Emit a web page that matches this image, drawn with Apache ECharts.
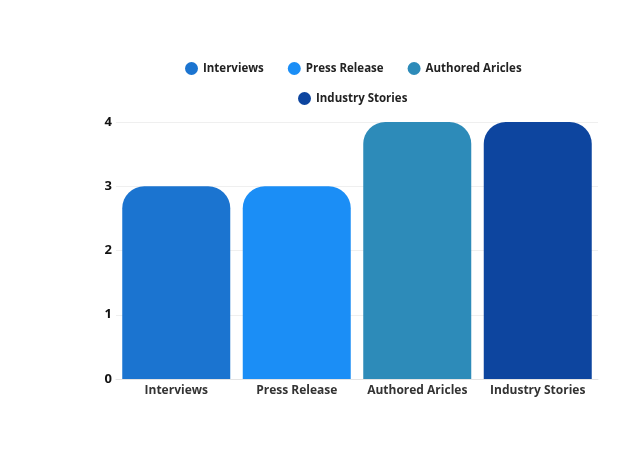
<!DOCTYPE html>
<html>
<head>
<meta charset="utf-8">
<script src="https://cdn.jsdelivr.net/npm/echarts@6/dist/echarts.min.js"></script>
<style>
  html, body { margin: 0; padding: 0; background: #fff; }
  #chart { width: 638px; height: 455px; }
</style>
</head>
<body>
<div id="chart"></div>
<script>
const categories = ['Interviews', 'Press Release', 'Authored Aricles', 'Industry Stories'];
const values = [3, 3, 4, 4];
const colors = ['#1b74d0', '#1b8ef6', '#2d8bb9', '#0d459f'];
const yTicks = [0, 1, 2, 3, 4];

const font = 'Open Sans';

// one series per category so each gets its own legend entry
const series = categories.map((name, i) => ({
  name: name,
  type: 'bar',
  stack: 'all',
  barWidth: 108,
  itemStyle: { color: colors[i], borderRadius: [22, 22, 0, 0] },
  data: values.map((v, j) => (j === i ? v : '-'))
}));

const legendText = { color: '#222', fontFamily: font, fontWeight: 'bold', fontSize: 11.5 };

const chart = echarts.init(document.getElementById('chart'));
chart.setOption({
  animation: false,
  legend: [{
    data: categories.slice(0, 3),
    left: 180,
    top: 57,
    icon: 'circle',
    itemWidth: 13,
    itemHeight: 13,
    itemGap: 24,
    textStyle: legendText
  }, {
    data: categories.slice(3),
    left: 293,
    top: 87,
    icon: 'circle',
    itemWidth: 13,
    itemHeight: 13,
    textStyle: legendText
  }],
  grid: { left: 116, right: 40, top: 122, bottom: 76 },
  xAxis: {
    type: 'category',
    data: categories,
    axisTick: { show: false },
    axisLine: { lineStyle: { color: '#e4e4e4' } },
    axisLabel: { interval: 0, color: '#333', fontFamily: font, fontWeight: 'bold', fontSize: 12, margin: 6 }
  },
  yAxis: {
    type: 'value',
    min: yTicks[0],
    max: yTicks[yTicks.length - 1],
    interval: 1,
    axisLabel: { color: '#111', fontFamily: font, fontWeight: 'bold', fontSize: 13, margin: 4 },
    splitLine: { lineStyle: { color: '#efefef' } }
  },
  series: series
});
</script>
</body>
</html>
